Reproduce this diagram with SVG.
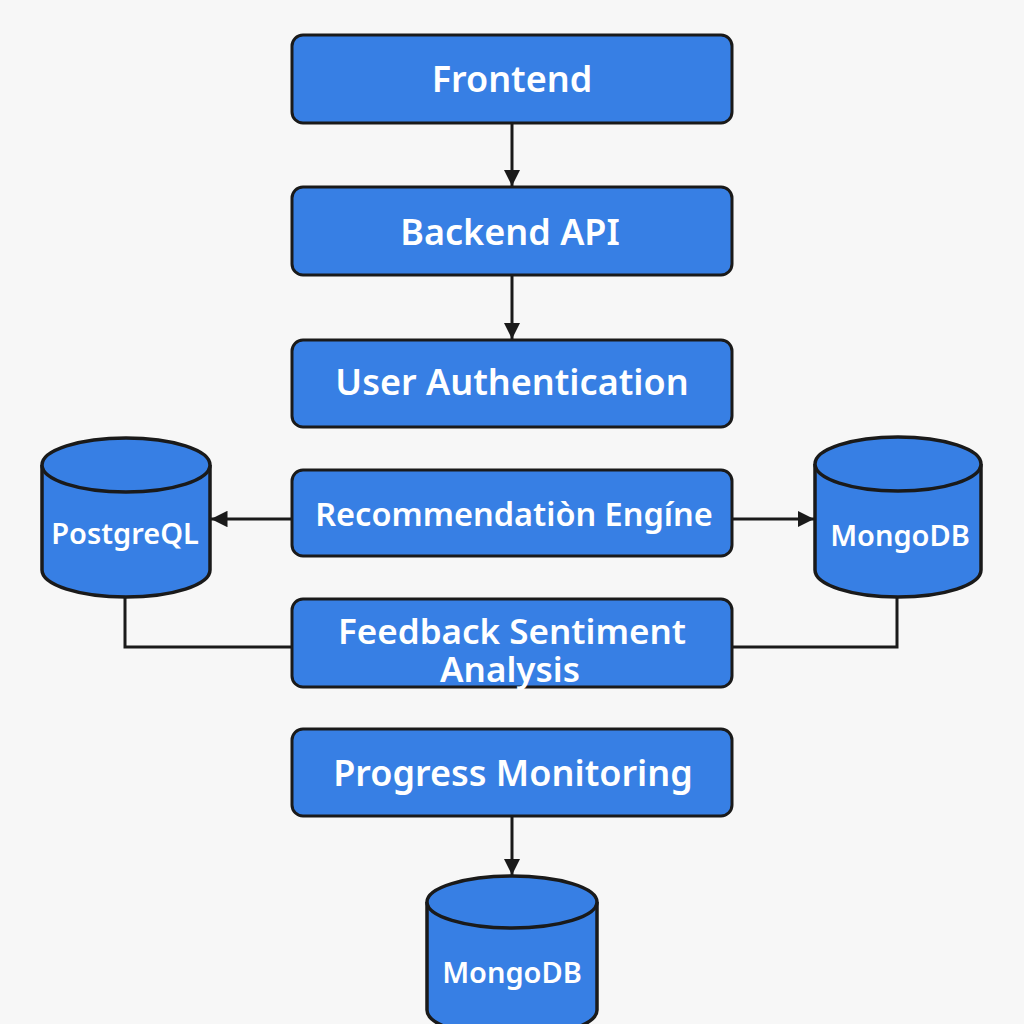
<svg xmlns="http://www.w3.org/2000/svg" width="1024" height="1024" viewBox="0 0 1024 1024">
<style>
.box{fill:#377fe4;stroke:#1a1a1a;stroke-width:3}
.cyl{fill:#377fe4;stroke:#1a1a1a;stroke-width:3.5}
.lbl{fill:#ffffff;font-family:"Noto Sans","Liberation Sans",sans-serif;font-weight:600;text-anchor:middle;dominant-baseline:central}
.conn{fill:none;stroke:#1a1a1a;stroke-width:3}
</style>
<defs>
<marker id="arr" viewBox="0 0 10 10" refX="10" refY="5" markerWidth="5.5" markerHeight="5.5" orient="auto" markerUnits="strokeWidth">
<path d="M0,0 L10,5 L0,10 Z" fill="#1a1a1a"/>
</marker>
</defs>
<rect width="1024" height="1024" fill="#f7f7f7"/>
<g id="connectors">
<line class="conn" x1="512" y1="123" x2="512" y2="186" marker-end="url(#arr)"/>
<line class="conn" x1="512" y1="275" x2="512" y2="339" marker-end="url(#arr)"/>
<line class="conn" x1="292" y1="519" x2="211" y2="519" marker-end="url(#arr)"/>
<line class="conn" x1="732" y1="519" x2="814" y2="519" marker-end="url(#arr)"/>
<polyline class="conn" points="125,598 125,647 292,647"/>
<polyline class="conn" points="897,598 897,647 732,647"/>
<line class="conn" x1="512" y1="816" x2="512" y2="875" marker-end="url(#arr)"/>
</g>
<g id="frontend">
<rect class="box" x="292" y="35" width="440" height="88" rx="11"/>
<text class="lbl" x="512" y="78" font-size="36">Frontend</text>
</g>
<g id="backend">
<rect class="box" x="292" y="187" width="440" height="88" rx="11"/>
<text class="lbl" x="510" y="231" font-size="36">Backend API</text>
</g>
<g id="auth">
<rect class="box" x="292" y="340" width="440" height="87" rx="11"/>
<text class="lbl" x="512" y="381" font-size="36">User Authentication</text>
</g>
<g id="recommendation">
<rect class="box" x="292" y="470" width="440" height="86" rx="11"/>
<text class="lbl" x="514" y="513" font-size="32.5">Recommendatiòn Engíne</text>
</g>
<g id="feedback">
<rect class="box" x="292" y="599" width="440" height="88" rx="11"/>
<text class="lbl" x="512" y="630" font-size="35">Feedback Sentiment</text>
<text class="lbl" x="510" y="668" font-size="35">Analysis</text>
</g>
<g id="progress">
<rect class="box" x="292" y="729" width="440" height="87" rx="11"/>
<text class="lbl" x="513" y="772" font-size="36">Progress Monitoring</text>
</g>
<g id="postgresql">
<path class="cyl" d="M42,465 L42,570 A84,27 0 0 0 210,570 L210,465"/>
<ellipse class="cyl" cx="126" cy="465" rx="84" ry="27"/>
<text class="lbl" x="125" y="532" font-size="29">PostgreQL</text>
</g>
<g id="mongodb-right">
<path class="cyl" d="M815,464 L815,570 A83,27 0 0 0 981,570 L981,464"/>
<ellipse class="cyl" cx="898" cy="464" rx="83" ry="27"/>
<text class="lbl" x="900" y="534" font-size="29">MongoDB</text>
</g>
<g id="mongodb-bottom">
<path class="cyl" d="M427,902 L427,1010 A85,27 0 0 0 597,1010 L597,902"/>
<ellipse class="cyl" cx="512" cy="902" rx="85" ry="26"/>
<text class="lbl" x="512" y="971" font-size="29">MongoDB</text>
</g>
</svg>
